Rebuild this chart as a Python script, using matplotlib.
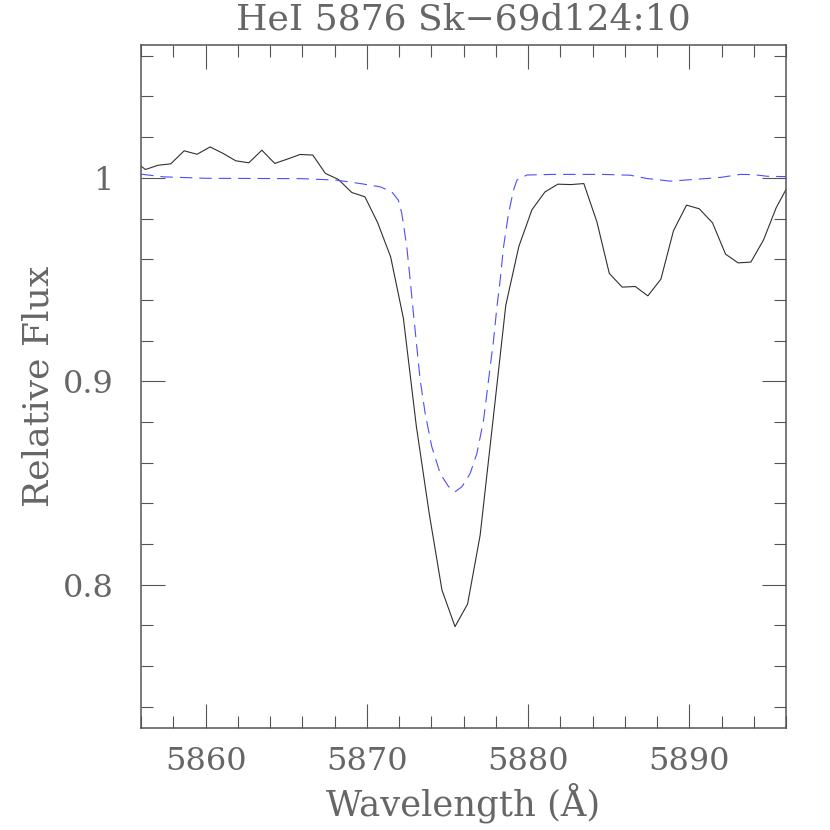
import matplotlib
matplotlib.use("Agg")
import matplotlib.pyplot as plt
from matplotlib.ticker import MultipleLocator

plt.rcParams['lines.scale_dashes'] = False
plt.rcParams['font.family'] = ['DejaVu Serif']

# Observed spectrum (black solid line)
obs_wave = [5855.47, 5856.27, 5857.05, 5857.84, 5858.67, 5859.47, 5860.28, 5861.09,
            5861.87, 5862.68, 5863.49, 5864.29, 5865.06, 5865.86, 5866.65, 5867.43,
            5868.24, 5869.07, 5869.88, 5870.67, 5871.48, 5872.27, 5873.07, 5873.87,
            5874.66, 5875.47, 5876.25, 5877.03, 5877.84, 5878.62, 5879.43, 5880.24,
            5881.05, 5881.85, 5882.66, 5883.46, 5884.27, 5885.04, 5885.84, 5886.65,
            5887.43, 5888.24, 5889.02, 5889.83, 5890.62, 5891.44, 5892.25, 5893.03,
            5893.82, 5894.60, 5895.39, 5896.19]
obs_flux = [1.0090, 1.0041, 1.0062, 1.0069, 1.0133, 1.0116, 1.0152, 1.0120,
            1.0084, 1.0074, 1.0136, 1.0071, 1.0092, 1.0115, 1.0112, 1.0022,
            0.9992, 0.9928, 0.9907, 0.9780, 0.9611, 0.9309, 0.8780, 0.8350,
            0.7974, 0.7794, 0.7905, 0.8244, 0.8818, 0.9374, 0.9663, 0.9843,
            0.9931, 0.9969, 0.9967, 0.9972, 0.9784, 0.9530, 0.9463, 0.9466,
            0.9420, 0.9502, 0.9740, 0.9866, 0.9848, 0.9779, 0.9625, 0.9582,
            0.9586, 0.9694, 0.9853, 0.9971]

# Model profile (blue dashed line)
mod_wave = [5856.00, 5857.40, 5860.00, 5866.00, 5868.10, 5869.60, 5870.83, 5871.55,
            5871.96, 5872.17, 5872.48, 5872.69, 5872.89, 5873.10, 5873.31, 5873.62,
            5874.03, 5874.55, 5875.07, 5875.48, 5875.90, 5876.41, 5876.83, 5877.24,
            5877.55, 5877.86, 5878.07, 5878.27, 5878.48, 5878.79, 5879.10, 5879.31,
            5879.93, 5881.56, 5884.68, 5886.34, 5887.37, 5888.82, 5890.26, 5891.92,
            5893.16, 5893.98, 5894.81, 5896.00]
mod_flux = [1.0018, 1.0005, 0.9998, 0.9996, 0.9989, 0.9972, 0.9956, 0.9931,
            0.9890, 0.9825, 0.9661, 0.9497, 0.9334, 0.9170, 0.9006, 0.8842,
            0.8678, 0.8547, 0.8482, 0.8457, 0.8482, 0.8547, 0.8646, 0.8809,
            0.9006, 0.9202, 0.9366, 0.9497, 0.9661, 0.9825, 0.9940, 0.9989,
            1.0014, 1.0017, 1.0017, 1.0013, 0.9997, 0.9984, 0.9992, 1.0002,
            1.0017, 1.0016, 1.0008, 1.0006]

title = "HeI 5876 Sk\u221269d124:10"
xlabel = "Wavelength (\u00c5)"
ylabel = "Relative Flux"

fig = plt.figure(figsize=(8.3, 8.3), dpi=100)
ax = fig.add_axes([0.170, 0.1225, 0.777, 0.823])

ax.plot(obs_wave, obs_flux, color='#303030', lw=0.8)
ax.plot(mod_wave, mod_flux, color='#4d4dff', lw=0.8, linestyle=(0, (9, 5)))

ax.set_xlim(5856, 5896)
ax.set_ylim(0.7294, 1.0652)

ax.xaxis.set_major_locator(MultipleLocator(10))
ax.xaxis.set_minor_locator(MultipleLocator(2))
ax.yaxis.set_major_locator(MultipleLocator(0.1))
ax.yaxis.set_minor_locator(MultipleLocator(0.02))

ax.set_yticks([0.8, 0.9, 1.0])
ax.set_yticklabels(['0.8', '0.9', '1'])

txtc = '#666666'
ax.tick_params(which='both', direction='in', top=True, right=True,
               color='#555555', width=0.8, labelsize=23, labelcolor=txtc)
ax.tick_params(which='major', length=17, pad=13)
ax.tick_params(which='minor', length=8.5)
ax.tick_params(axis='y', which='major', pad=20)

for s in ax.spines.values():
    s.set_color('#555555')
    s.set_linewidth(1.1)

ax.set_title(title, fontsize=26, color=txtc, pad=11)
ax.set_xlabel(xlabel, fontsize=25.5, color=txtc, labelpad=4)
ax.set_ylabel(ylabel, fontsize=26, color=txtc, labelpad=5)

fig.savefig('out.png', dpi=100)
